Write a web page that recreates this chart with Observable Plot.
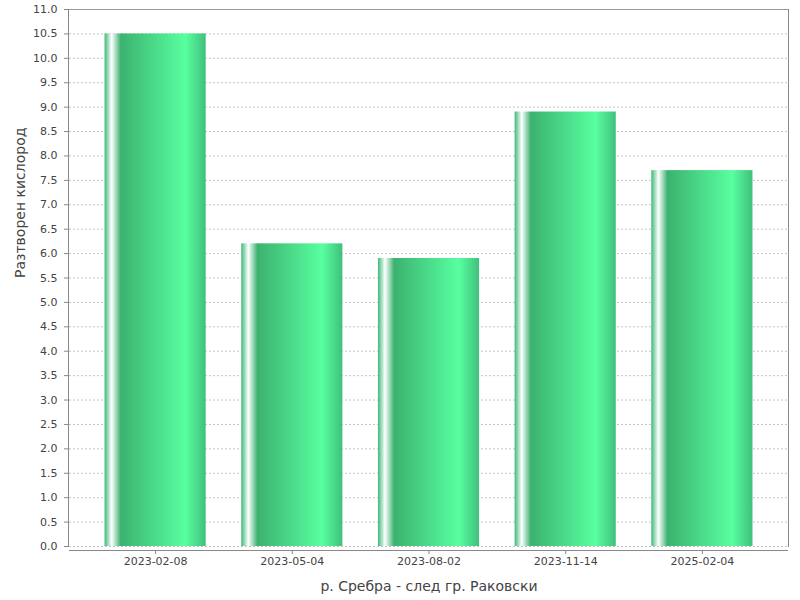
<!DOCTYPE html>
<html>
<head>
<meta charset="utf-8">
<script src="https://cdn.jsdelivr.net/npm/d3@7"></script>
<script src="https://cdn.jsdelivr.net/npm/@observablehq/plot@0.6"></script>
<style>
  html, body { margin: 0; padding: 0; background: #fff; }
  #chart { width: 800px; height: 600px; }
</style>
</head>
<body>
<div id="chart"></div>
<script>
const dates = ["2023-02-08", "2023-05-04", "2023-08-02", "2023-11-14", "2025-02-04"];
const oxygen = [10.5, 6.2, 5.9, 8.9, 7.7];
const yTicks = [0, 0.5, 1, 1.5, 2, 2.5, 3, 3.5, 4, 4.5, 5, 5.5, 6, 6.5, 7, 7.5, 8, 8.5, 9, 9.5, 10, 10.5, 11];
const xTitle = "р. Сребра - след гр. Раковски";
const yTitle = "Разтворен кислород";

const data = dates.map((d, i) => ({date: d, value: oxygen[i]}));

function gradientDefs() {
  const ns = "http://www.w3.org/2000/svg";
  const defs = document.createElementNS(ns, "defs");
  const lg = document.createElementNS(ns, "linearGradient");
  lg.setAttribute("id", "barGrad");
  lg.setAttribute("x1", "0"); lg.setAttribute("x2", "1");
  lg.setAttribute("y1", "0"); lg.setAttribute("y2", "0");
  const stops = [
    [0, "rgb(62,185,120)"],
    [0.07, "rgb(255,255,255)"],
    [0.16, "rgb(60,178,112)"],
    [0.80, "rgb(88,255,160)"],
    [1, "rgb(64,192,124)"]
  ];
  for (const [o, c] of stops) {
    const s = document.createElementNS(ns, "stop");
    s.setAttribute("offset", o);
    s.setAttribute("stop-color", c);
    lg.appendChild(s);
  }
  defs.appendChild(lg);
  return defs;
}

const chart = Plot.plot({
  width: 800,
  height: 600,
  marginLeft: 69,
  marginRight: 12,
  marginTop: 9,
  marginBottom: 54,
  style: {fontFamily: "DejaVu Sans", fontSize: "11px", color: "#444", background: "#fff"},
  x: {domain: dates, paddingInner: 0.26, paddingOuter: 0.26, round: false, label: null},
  y: {domain: [0, 11], label: null},
  marks: [
    gradientDefs,
    Plot.gridY(yTicks, {stroke: "#c4c4c4", strokeOpacity: 1, strokeDasharray: "2,2"}),
    Plot.barY(data, {x: "date", y: "value", fill: "url(#barGrad)"}),
    Plot.frame({anchor: "top", stroke: "#999"}),
    Plot.frame({anchor: "right", stroke: "#888"}),
    Plot.frame({anchor: "left", stroke: "#888", dx: -1}),
    Plot.ruleY([0], {dy: 4, stroke: "#888"}),
    Plot.axisY(yTicks, {tickFormat: d3.format(".1f"), tickSize: 4, tickPadding: 7, stroke: "#888", fill: "#444", label: null, dx: -1}),
    Plot.axisX({tickSize: 4, tickPadding: 3, dy: 4, stroke: "#888", fill: "#444", label: null}),
    Plot.text([xTitle], {frameAnchor: "bottom", dy: 40, fontSize: 14, fill: "#444", lineAnchor: "middle"}),
    Plot.text([yTitle], {frameAnchor: "left", dx: -49, rotate: -90, fontSize: 14, fill: "#444", lineAnchor: "middle"})
  ]
});
document.getElementById("chart").appendChild(chart);
</script>
</body>
</html>
